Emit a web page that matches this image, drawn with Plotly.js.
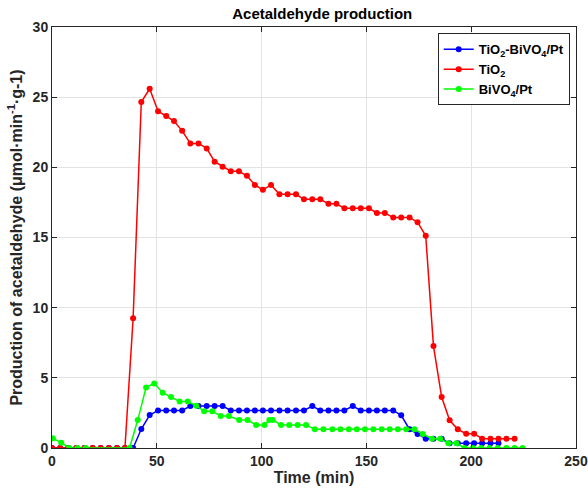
<!DOCTYPE html>
<html>
<head>
<meta charset="utf-8">
<script src="https://cdn.plot.ly/plotly-3.0.1.min.js"></script>
<style>html,body{margin:0;padding:0;background:#fff;}#chart{width:588px;height:491px;}</style>
</head>
<body>
<div id="chart"></div>
<script>
// Shared time grid (min) for TiO2 and TiO2-BiVO4/Pt
const timeMain = [0, 3.9, 7.7, 11.6, 15.5, 19.4, 23.2, 27.1, 31.0, 34.8,
  38.7, 42.6, 46.6, 50.6, 54.5, 58.2, 62.1, 66.0, 69.9, 73.8,
  77.6, 81.4, 85.3, 89.2, 93.0, 96.8, 100.6, 104.5, 108.5, 112.4,
  116.4, 120.2, 124.2, 128.0, 131.9, 135.7, 139.5, 143.5, 147.3, 151.2,
  155.0, 158.8, 162.8, 166.6, 170.6, 174.4, 178.3, 182.0, 185.9, 189.7,
  193.6, 197.6, 201.4, 205.2, 209.2, 213.0, 216.8, 220.7];

const tio2 = [0, 0, 0, 0, 0, 0, 0, 0, 0, 0,
  9.25, 24.65, 25.6, 24.0, 23.65, 23.3, 22.6, 21.7, 21.7, 21.35,
  20.4, 20.05, 19.72, 19.72, 19.4, 18.75, 18.4, 18.75, 18.08, 18.08,
  18.08, 17.72, 17.72, 17.72, 17.4, 17.4, 17.08, 17.08, 17.08, 17.08,
  16.75, 16.75, 16.42, 16.42, 16.42, 16.09, 15.12, 7.26, 3.63, 1.97,
  1.33, 1.02, 1.02, 0.66, 0.66, 0.66, 0.66, 0.66];

const timeBlue = timeMain.slice(0, 56);
const tio2BiVO4Pt = [0, 0, 0, 0, 0, 0, 0, 0, 0, 0,
  0, 1.35, 2.35, 2.68, 2.68, 2.68, 2.68, 2.99, 2.99, 2.99,
  2.99, 2.99, 2.68, 2.68, 2.68, 2.68, 2.68, 2.68, 2.68, 2.68,
  2.68, 2.68, 2.99, 2.68, 2.68, 2.68, 2.68, 2.99, 2.68, 2.68,
  2.68, 2.68, 2.68, 2.33, 1.33, 1.0, 0.66, 0.66, 0.66, 0.33,
  0.33, 0.33, 0.33, 0.33, 0.33, 0.33];

const timeGreen = [0.4, 4.4, 8.3, 12.2, 16.1, 37.0,
  40.9, 44.9, 48.8, 52.8, 56.8, 60.9, 64.8, 68.8, 72.6, 76.5,
  80.5, 84.4, 89.3, 93.3, 97.4, 101.4, 103.7, 105.3, 109.3, 113.2,
  117.2, 121.2, 125.4, 129.5, 133.8, 137.6, 141.6, 145.4, 149.3, 153.3,
  157.3, 161.1, 165.0, 169.0, 172.9, 176.9, 181.3, 185.2, 189.1, 192.9,
  196.8, 200.8, 204.8, 208.7, 212.6, 216.8, 220.7, 224.5];
const biVO4Pt = [0.69, 0.38, 0, 0, 0, 0,
  1.99, 4.32, 4.6, 3.94, 3.63, 3.32, 3.32, 3.01, 2.61, 2.61,
  2.28, 2.28, 1.99, 1.99, 1.64, 1.64, 1.99, 1.99, 1.64, 1.64,
  1.64, 1.64, 1.33, 1.33, 1.33, 1.33, 1.33, 1.33, 1.33, 1.33,
  1.33, 1.33, 1.33, 1.33, 1.33, 1.0, 0.66, 0.66, 0.33, 0.33,
  0, 0, 0, 0, 0, 0, 0, 0];

const names = ['TiO<sub>2</sub>-BiVO<sub>4</sub>/Pt', 'TiO<sub>2</sub>', 'BiVO<sub>4</sub>/Pt'];
const xTicks = [0, 50, 100, 150, 200, 250];
const yTicks = [0, 5, 10, 15, 20, 25, 30];

function series(x, y, name, color) {
  return {x: x, y: y, name: name, type: 'scatter', mode: 'lines+markers',
    line: {color: color, width: 1.5}, marker: {color: color, size: 6}};
}

const data = [
  series(timeBlue, tio2BiVO4Pt, names[0], '#0000ff'),
  series(timeMain, tio2, names[1], '#ff0000'),
  series(timeGreen, biVO4Pt, names[2], '#00ff00')
];

const axisCommon = {
  showline: true, mirror: 'ticks', linecolor: '#262626', linewidth: 1,
  ticks: 'inside', ticklen: 5, tickcolor: '#262626',
  showgrid: true, gridcolor: '#e3e3e3', gridwidth: 1, zeroline: false,
  tickfont: {family: 'Liberation Sans, Arial, sans-serif', size: 14, color: '#262626', weight: 'bold'}
};

const layout = {
  width: 588, height: 491,
  margin: {l: 51.5, r: 12, t: 26.5, b: 43},
  paper_bgcolor: '#ffffff', plot_bgcolor: '#ffffff',
  font: {family: 'Liberation Sans, Arial, sans-serif', color: '#000'},
  title: {text: '<b>Acetaldehyde production</b>', x: 0.548, xanchor: 'center', y: 0.972, yanchor: 'middle',
    font: {size: 15, color: '#000'}},
  xaxis: Object.assign({}, axisCommon, {
    range: [0, 250], tickvals: xTicks, ticktext: xTicks.map(String),
    title: {text: '<b>Time (min)</b>', font: {size: 16, color: '#262626'}, standoff: 4}
  }),
  yaxis: Object.assign({}, axisCommon, {
    range: [0, 30], tickvals: yTicks, ticktext: yTicks.map(String),
    title: {text: '<b>Production of acetaldehyde (μmol·min<sup>-1</sup>·g-1)</b>', font: {size: 16, color: '#262626'}, standoff: 6}
  }),
  showlegend: true,
  legend: {x: 0.988, xanchor: 'right', y: 0.985, yanchor: 'top',
    bgcolor: '#ffffff', bordercolor: '#262626', borderwidth: 1,
    font: {size: 13, color: '#000', weight: 'bold'}, tracegroupgap: 0, itemwidth: 30}
};

Plotly.newPlot('chart', data, layout, {displayModeBar: false, responsive: false});
</script>
</body>
</html>
